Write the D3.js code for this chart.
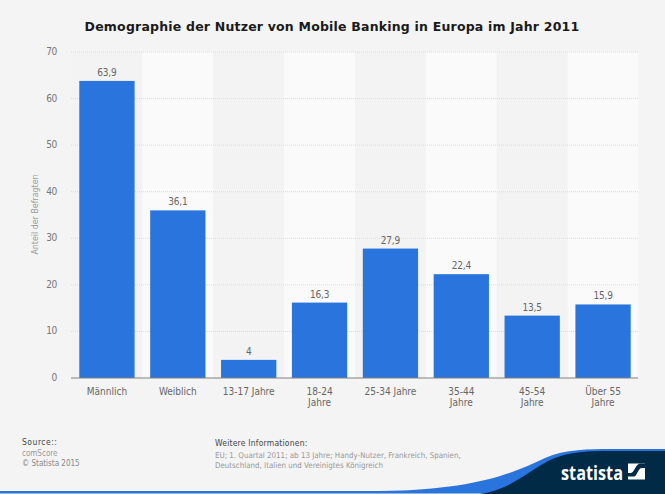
<!DOCTYPE html>
<html lang="de">
<head>
<meta charset="UTF-8">
<title>Demographie der Nutzer von Mobile Banking</title>
<script src="https://d3js.org/d3.v7.min.js"></script>
<style>
  html, body { margin: 0; padding: 0; background: #f4f4f4; }
  svg { display: block; font-family: "DejaVu Sans", sans-serif; }
  .cond { font-stretch: condensed; }
</style>
</head>
<body>
<div id="chart"></div>
<script>
const categories = ["Männlich", "Weiblich", "13-17 Jahre", "18-24 Jahre", "25-34 Jahre", "35-44 Jahre", "45-54 Jahre", "Über 55 Jahre"];
const labelLines = [["Männlich"], ["Weiblich"], ["13-17 Jahre"], ["18-24", "Jahre"], ["25-34 Jahre"], ["35-44", "Jahre"], ["45-54", "Jahre"], ["Über 55", "Jahre"]];
const values = [63.9, 36.1, 4, 16.3, 27.9, 22.4, 13.5, 15.9];
const valueLabels = ["63,9", "36,1", "4", "16,3", "27,9", "22,4", "13,5", "15,9"];
const yTicks = [0, 10, 20, 30, 40, 50, 60, 70];

const width = 665, height = 494;
const svg = d3.select("#chart").append("svg").attr("width", width).attr("height", height);

const x = d3.scaleBand().domain(categories).range([71.5, 638.5]).paddingInner(0.22).paddingOuter(0.11);
const y = d3.scaleLinear().domain([0, 70]).range([378, 52]);
const step = x.step();

// alternating column stripes
svg.append("g").selectAll("rect").data(categories).join("rect")
  .attr("x", (d, i) => 71.5 + i * step)
  .attr("y", y(70))
  .attr("width", step)
  .attr("height", y(0) - y(70))
  .attr("fill", (d, i) => i % 2 ? "#fafafa" : "#f3f3f3");

// grid
svg.append("g").selectAll("line").data(yTicks.filter(d => d > 0)).join("line")
  .attr("x1", 71).attr("x2", 638)
  .attr("y1", d => y(d)).attr("y2", d => y(d))
  .attr("stroke", "#dcdcdc").attr("stroke-dasharray", "1,1");

// bars
svg.append("g").selectAll("rect").data(values).join("rect")
  .attr("x", (d, i) => x(categories[i]))
  .attr("y", d => y(d) + 0.5)
  .attr("width", x.bandwidth())
  .attr("height", d => y(0) - y(d) - 0.5)
  .attr("fill", "#2975dd");

// value labels
svg.append("g").selectAll("text").data(values).join("text")
  .attr("class", "cond")
  .attr("x", (d, i) => x(categories[i]) + x.bandwidth() / 2)
  .attr("y", d => y(d) - 4.5)
  .attr("text-anchor", "middle")
  .attr("font-size", 10).attr("letter-spacing", -0.2).attr("fill", "#666")
  .text((d, i) => valueLabels[i]);

// baseline
svg.append("line").attr("x1", 71).attr("x2", 638).attr("y1", y(0)).attr("y2", y(0))
  .attr("stroke", "#808080").attr("stroke-width", 1.2);

// y tick labels
svg.append("g").selectAll("text").data(yTicks).join("text")
  .attr("class", "cond")
  .attr("x", 57).attr("y", d => y(d) + 3)
  .attr("text-anchor", "end")
  .attr("font-size", 10).attr("letter-spacing", -0.3).attr("fill", "#777")
  .text(d => d);

// x labels
const xl = svg.append("g").selectAll("text").data(labelLines).join("text")
  .attr("class", "cond")
  .attr("text-anchor", "middle")
  .attr("font-size", 10).attr("fill", "#666");
xl.selectAll("tspan").data((d, i) => d.map(t => ({ t, i }))).join("tspan")
  .attr("x", d => x(categories[d.i]) + x.bandwidth() / 2)
  .attr("y", (d, j) => 395 + j * 11)
  .text(d => d.t);

// axis title
svg.append("text").attr("class", "cond")
  .attr("transform", "translate(38,214.5) rotate(-90)")
  .attr("text-anchor", "middle")
  .attr("font-size", 8.8).attr("fill", "#999")
  .text("Anteil der Befragten");

// title
svg.append("text")
  .attr("x", 332).attr("y", 31)
  .attr("text-anchor", "middle")
  .attr("font-size", 12.5).attr("font-weight", "bold").attr("fill", "#1a1a1a")
  .attr("letter-spacing", 0.2)
  .text("Demographie der Nutzer von Mobile Banking in Europa im Jahr 2011");

// footer
const foot = [
  ["Source::", 22, 445, "#444", 8.5, 0.5],
  ["comScore", 22, 456, "#999", 8, 0],
  ["© Statista 2015", 22, 466, "#888", 8, 0],
  ["Weitere Informationen:", 215, 446, "#444", 8.5, 0.2],
  ["EU; 1. Quartal 2011; ab 13 Jahre; Handy-Nutzer, Frankreich, Spanien,", 215, 458, "#999", 7.9, 0],
  ["Deutschland, Italien und Vereinigtes Königreich", 215, 468, "#999", 7.9, 0]
];
svg.append("g").selectAll("text").data(foot).join("text")
  .attr("class", "cond")
  .attr("x", d => d[1]).attr("y", d => d[2])
  .attr("font-size", d => d[4]).attr("letter-spacing", d => d[5]).attr("fill", d => d[3])
  .text(d => d[0]);

// brand swoosh
svg.append("path")
  .attr("d", "M0,491 L380,491 C470,490 510,475 545,458 C565,449 590,449 610,449 L665,449 L665,493.5 L0,493.5 Z")
  .attr("fill", "#2975dd");
svg.append("path")
  .attr("d", "M480,494 C510,490 530,470 550,460 C570,451 590,451 610,451 L665,451 L665,494 Z")
  .attr("fill", "#002a45");

svg.append("text")
  .attr("x", 561).attr("y", 479.5)
  .attr("font-family", "'Open Sans', sans-serif")
  .attr("font-size", 20).attr("font-weight", "bold").attr("fill", "#fff")
  .attr("textLength", 62).attr("lengthAdjust", "spacingAndGlyphs")
  .text("statista");

// logo mark
svg.append("rect").attr("x", 628).attr("y", 463.5).attr("width", 17).attr("height", 16).attr("fill", "#fff");
svg.append("path")
  .attr("d", "M628,476.5 L634,476.5 C637,476.5 638,468 642,468 L645,468 L645,463.5 L640,463.5 C636,463.5 634,473 631,473 L628,473 Z")
  .attr("fill", "#002a45");
</script>
</body>
</html>
